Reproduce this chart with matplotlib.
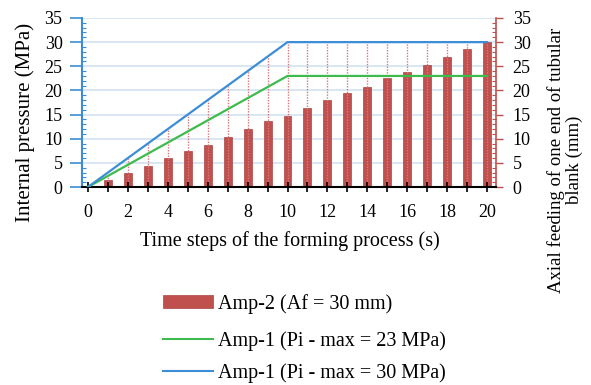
import numpy as np
import matplotlib
matplotlib.use("Agg")
import matplotlib.pyplot as plt
from matplotlib.ticker import MultipleLocator
from matplotlib.patches import Patch
from matplotlib.lines import Line2D

plt.rcParams["font.family"] = ["Liberation Serif", "DejaVu Serif"]

# data
steps = list(range(1, 21))
axial_feed = [1.5, 3.0, 4.3, 6.0, 7.5, 8.8, 10.4, 12.0, 13.6, 14.8,
              16.4, 18.0, 19.4, 20.8, 22.6, 23.8, 25.3, 27.0, 28.6, 30.0]
line_t = [0, 10, 20]
p_max23 = [0, 23, 23]
p_max30 = [0, 30, 30]

labels = ["Amp-2 (Af = 30 mm)", "Amp-1 (Pi - max = 23 MPa)",
          "Amp-1 (Pi - max = 30 MPa)"]

red = "#C0504D"
blue = "#3C8DD6"
green = "#3DBB4C"

W, H = 591, 385
fig = plt.figure(figsize=(W / 100, H / 100), dpi=100)


def fx(px):
    return px / W


def fy(py):
    return 1 - py / H


ax = fig.add_axes([fx(82), fy(187), fx(496) - fx(82), fy(18) - fy(187)])
ax2 = ax.twinx()

# drop lines from axis to the 30 MPa curve
drop_top = np.interp(steps, line_t, p_max30)
ax.vlines(steps, 0, drop_top, colors="#D9777A", linestyles=(0, (1, 1)),
          linewidth=1.0, zorder=1)

ax.set_zorder(ax2.get_zorder() + 1)
ax.patch.set_visible(False)

ax2.bar(steps, axial_feed, width=0.4, color=red, edgecolor="#A94442",
        linewidth=0.5, zorder=2)
ax.plot(line_t, p_max23, color=green, linewidth=1.6, zorder=3)
ax.plot(line_t, p_max30, color=blue, linewidth=1.6, zorder=3)

for a in (ax, ax2):
    a.set_xlim(-0.3, 20.45)
    a.set_ylim(0, 35)
    a.yaxis.set_major_locator(MultipleLocator(5))
    a.yaxis.set_minor_locator(MultipleLocator(1))

ax2.grid(axis="y", color="#D5E5F5", linewidth=1.3)
ax2.set_axisbelow(True)

ax.xaxis.set_major_locator(MultipleLocator(2))
ax.xaxis.set_minor_locator(MultipleLocator(1))
ax.tick_params(axis="x", which="both", direction="inout", length=7,
               width=1.2, labelsize=13, pad=9)

for a in (ax, ax2):
    for s in a.spines.values():
        s.set_visible(False)
ax.spines["bottom"].set_visible(True)
ax.spines["bottom"].set_linewidth(1.5)
ax.spines["left"].set_visible(True)
ax.spines["left"].set_color(blue)
ax.spines["left"].set_linewidth(1.5)
ax2.spines["right"].set_visible(True)
ax2.spines["right"].set_color(red)
ax2.spines["right"].set_linewidth(1.2)

ax.tick_params(axis="y", which="major", direction="out", length=9,
               color=blue, width=1.2, labelsize=13, pad=5)
ax.tick_params(axis="y", which="minor", direction="in", length=3,
               color=blue, width=0.8)
ax2.tick_params(axis="y", which="major", direction="out", length=5,
                color=red, width=1.0, labelsize=13, pad=7)
ax2.tick_params(axis="y", which="minor", direction="in", length=3,
                color=red, width=0.8)

fig.text(fx(290), fy(241), "Time steps of the forming process (s)",
         fontsize=14.5, ha="center", va="center")
fig.text(fx(25), fy(122), "Internal pressure (MPa)", fontsize=15,
         rotation=90, ha="center", va="center")
fig.text(fx(565), fy(160), "Axial feeding of one end of tubular\nblank (mm)",
         fontsize=13.5, rotation=90, ha="center", va="center",
         multialignment="center", linespacing=1.1)

handles = [Patch(facecolor=red, edgecolor="#A94442", linewidth=0.5),
           Line2D([], [], color=green, linewidth=1.5),
           Line2D([], [], color=blue, linewidth=1.5)]
rows_y = [304, 341, 373]
for h, lab, ry in zip(handles, labels, rows_y):
    fig.legend(handles=[h], labels=[lab], loc="center left",
               bbox_to_anchor=(fx(163), fy(ry)), frameon=False,
               fontsize=14.5, handlelength=2.5, handleheight=0.6,
               handletextpad=0.25, borderpad=0, borderaxespad=0)

fig.savefig("out.png", dpi=100)
